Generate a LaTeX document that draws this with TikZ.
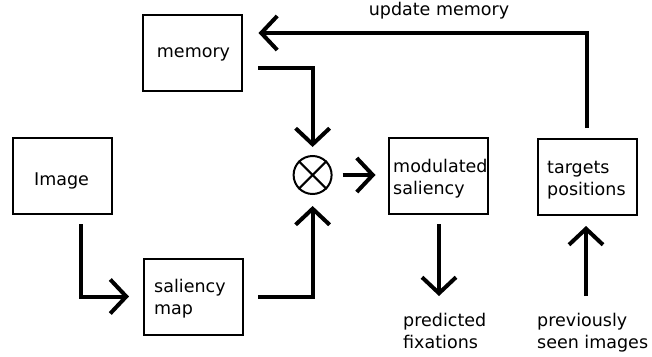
\documentclass[tikz,border=0pt]{standalone}
\usepackage{fontspec}
\setmainfont{DejaVu Sans}
\usetikzlibrary{arrows.meta,calc}
\tikzset{
  box/.style={draw, line width=2pt, minimum width=99pt, minimum height=76pt, inner sep=0pt},
  arr/.style={line width=4pt, line join=miter, -{Straight Barb[length=16pt,width=34pt]}},
  txt/.style={anchor=base west, inner sep=0pt, align=left, font=\fontsize{17.5}{21.8}\selectfont},
}
\begin{document}
\begin{tikzpicture}[x=1pt,y=-1pt]
\useasboundingbox (0,0) rectangle (652,356);
% boxes
\node[box] (mem) at (192.5,52.5) {};
\node[box] (img) at (62.5,176) {};
\node[box] (sal) at (193.5,296.5) {};
\node[box] (mod) at (438.5,176) {};
\node[box] (tgt) at (587,177) {};
% multiplication circle
\node[draw, circle, line width=2pt, minimum size=38pt, inner sep=0pt] (mul) at (312.6,175) {};
\draw[line width=2pt] (mul.north west) -- (mul.south east);
\draw[line width=2pt] (mul.north east) -- (mul.south west);
% texts (base anchor = baseline of last line)
\node[txt, anchor=base] (tmem) at (193.5,57.5) {memory};
\node[txt] (timg) at (34,185) {Image};
\node[txt] (tsal) at (154,314.5) {saliency\\map};
\node[txt] (tmod) at (393,194) {modulated\\saliency};
\node[txt] (ttgt) at (547,195) {targets\\positions};
\node[txt, anchor=base] (tupd) at (439,16) {update memory};
\node[txt] (tpred) at (403,348.5) {predicted\\fixations};
\node[txt] (tprev) at (537,348.5) {previously\\seen images};
% free ends
\coordinate (pf) at (439,296);
\coordinate (ps) at (586,296);
% connectors
\draw[arr] ([xshift=15pt,yshift=-15.8pt]mem.east) -| ([yshift=8pt]mul.north);
\draw[arr] ([xshift=14pt]sal.east) -| ([yshift=-11pt]mul.south);
\draw[arr] ([xshift=18.5pt,yshift=-9pt]img.south) |- ([xshift=-14pt]sal.west);
\draw[arr] ([xshift=10pt]mul.east) -- ([xshift=-12.5pt]mod.west |- mul.east);
\draw[arr] ([xshift=0.5pt,yshift=-9pt]mod.south) -- (pf);
\draw[arr] (ps) -- ([xshift=-1pt,yshift=-10pt]tgt.south);
\draw[arr] ([yshift=10pt]tgt.north) |- ([xshift=15.5pt,yshift=19.5pt]mem.east);
\end{tikzpicture}
\end{document}
